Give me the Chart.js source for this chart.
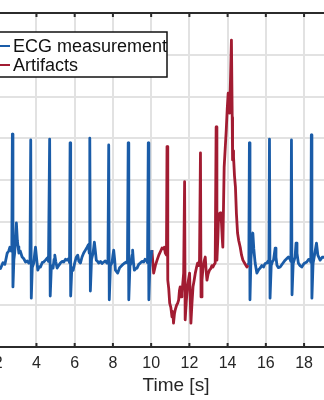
<!DOCTYPE html>
<html>
<head>
<meta charset="utf-8">
<script src="https://cdn.jsdelivr.net/npm/chart.js@4"></script>
<style>
  html, body { margin: 0; padding: 0; background: #fff; overflow: hidden; }
  #wrap { position: relative; width: 324px; height: 400px; overflow: hidden; }
  #ecgChart { position: absolute; left: -60px; top: 0; }
</style>
</head>
<body>
<div id="wrap"><canvas id="ecgChart" width="472" height="400"></canvas></div>
<script>
// data (time in s, signal in arbitrary units)
const legendLabels = ['ECG measurement', 'Artifacts'];

const ecgTimeA = [1.90, 2.00, 2.12, 2.25, 2.35, 2.47, 2.55, 2.61, 2.68, 2.71, 2.74, 2.77, 2.82, 2.86, 2.91, 2.95, 3.00, 3.04, 3.08, 3.15,
  3.25, 3.33, 3.43, 3.52, 3.60, 3.66, 3.70, 3.73, 3.78, 3.86, 3.91, 3.95, 3.99, 4.07, 4.14, 4.21, 4.30, 4.38, 4.47, 4.56,
  4.63, 4.69, 4.72, 4.78, 4.87, 4.92, 4.96, 5.01, 5.08, 5.16, 5.25, 5.34, 5.43, 5.52, 5.60, 5.69, 5.73, 5.76, 5.79, 5.85,
  5.92, 6.00, 6.08, 6.16, 6.22, 6.30, 6.38, 6.47, 6.56, 6.65, 6.72, 6.76, 6.79, 6.82, 6.88, 6.96, 7.03, 7.08, 7.13, 7.20,
  7.26, 7.35, 7.43, 7.52, 7.60, 7.69, 7.74, 7.78, 7.81, 7.87, 7.95, 8.00, 8.04, 8.09, 8.13, 8.20, 8.25, 8.35, 8.48, 8.58,
  8.70, 8.76, 8.80, 8.83, 8.89, 8.95, 9.00, 9.03, 9.08, 9.12, 9.20, 9.26, 9.35, 9.43, 9.52, 9.61, 9.68, 9.75, 9.81, 9.85,
  9.88, 9.93, 9.96, 10.04];
const ecgValA = [-0.05, -0.10, -0.12, 0.02, -0.02, 0.25, 0.30, 0.39, 0.30, 0.35, 3.10, -0.56, 0.10, 0.25, 0.60, 0.97, 0.55, 0.40, 0.25, 0.30,
  0.155, 0.12, 0.035, 0.06, 0.01, 0.04, 2.96, -0.83, -0.10, 0.01, 0.25, 0.39, 0.20, -0.16, -0.08, -0.085, 0.02, 0.035, 0.08, 0.13,
  0.05, 2.98, -0.78, -0.05, -0.11, 0.10, 0.20, 0.05, -0.11, -0.05, 0.01, 0.05, 0.035, 0.10, 0.08, 0.12, 0.02, 2.89, -0.78, -0.10,
  -0.16, 0.01, 0.15, 0.20, 0.05, 0.01, 0.15, 0.25, 0.32, 0.39, 0.45, 0.25, 3.00, -0.66, 0.10, 0.25, 0.51, 0.30, 0.08, 0.05,
  0.01, 0.05, 0.00, 0.035, 0.06, 0.01, 0.05, 2.84, -0.87, -0.05, 0.01, 0.20, 0.32, 0.10, -0.16, -0.20, -0.23, -0.10, -0.04, 0.00,
  0.035, 0.01, 2.89, -0.87, -0.05, 0.01, 0.20, 0.32, 0.00, -0.16, -0.12, -0.11, -0.02, 0.01, 0.05, 0.035, 0.10, 0.08, 0.02, 2.89,
  -0.87, -0.10, 0.035, 0.32];

const artTime = [10.04, 10.13, 10.22, 10.31, 10.40, 10.50, 10.57, 10.65, 10.69, 10.74, 10.80, 10.83, 10.87, 10.92, 10.97, 11.03, 11.09, 11.13, 11.17, 11.22,
  11.26, 11.33, 11.39, 11.44, 11.48, 11.52, 11.57, 11.61, 11.66, 11.70, 11.75, 11.78, 11.84, 11.90, 11.95, 12.01, 12.05, 12.08, 12.13, 12.19,
  12.25, 12.31, 12.37, 12.43, 12.48, 12.53, 12.58, 12.61, 12.66, 12.71, 12.77, 12.83, 12.88, 12.92, 12.98, 13.05, 13.12, 13.18, 13.23, 13.30,
  13.35, 13.40, 13.44, 13.49, 13.52, 13.58, 13.61, 13.65, 13.68, 13.72, 13.75, 13.79, 13.82, 13.88, 13.93, 13.98, 14.03, 14.07, 14.10, 14.15,
  14.20, 14.24, 14.26, 14.29, 14.31, 14.36, 14.41, 14.46, 14.52, 14.58, 14.66, 14.73, 14.80, 14.90, 15.01, 15.06];
const artVal = [0.32, -0.23, -0.05, 0.08, 0.20, 0.30, 0.37, 0.35, 0.39, 0.25, 0.20, 2.80, -0.40, -0.60, -0.95, -1.05, -1.28, -1.15, -1.43, -1.20,
  -1.11, -1.00, -0.95, -0.87, -0.65, -0.56, -0.80, -0.71, -0.45, -0.23, 1.96, -1.35, -0.90, -0.56, -0.40, -0.23, -0.90, -1.43, -1.00, -0.56,
  -0.40, -0.23, -0.10, 0.01, -0.05, 0.08, 2.65, -0.80, -0.40, -0.11, 0.05, 0.155, -0.20, -0.40, -0.25, -0.16, -0.12, -0.05, -0.085, -0.02,
  0.01, 3.27, 0.08, 0.60, 1.04, 1.20, 1.21, 1.10, 0.97, 0.60, 0.39, 1.50, 2.31, 2.80, 3.20, 3.70, 4.08, 3.80, 3.60, 4.40,
  5.35, 3.50, 2.48, 2.70, 2.55, 2.10, 1.83, 1.20, 0.73, 0.55, 0.39, 0.20, 0.08, 0.00, -0.085, -0.04];

const ecgTimeB = [15.06, 15.11, 15.14, 15.17, 15.22, 15.27, 15.32, 15.37, 15.44, 15.53, 15.62, 15.70, 15.79, 15.88, 15.96, 16.05, 16.12, 16.16, 16.19, 16.22,
  16.28, 16.35, 16.40, 16.49, 16.53, 16.58, 16.66, 16.75, 16.88, 17.01, 17.10, 17.18, 17.27, 17.31, 17.34, 17.37, 17.43, 17.53, 17.58, 17.63,
  17.70, 17.79, 17.88, 18.00, 18.14, 18.24, 18.32, 18.35, 18.38, 18.41, 18.47, 18.53, 18.65, 18.72, 18.84, 18.95, 19.05, 19.20, 19.35];
const ecgValB = [-0.04, 0.01, 2.89, -0.87, 0.10, 0.45, 0.73, 0.35, 0.01, -0.23, -0.15, -0.11, -0.05, -0.085, 0.00, 0.01, 0.06, 0.02, 2.98, -0.83,
  -0.05, 0.05, 0.08, 0.37, 0.15, -0.04, -0.10, -0.085, 0.00, 0.08, 0.12, 0.155, 0.10, 0.05, 2.96, -0.75, 0.00, 0.155, 0.49, 0.25,
  0.01, -0.05, -0.085, 0.00, 0.035, 0.10, 0.08, 0.03, 3.08, -0.83, 0.00, 0.155, 0.49, 0.20, 0.08, 0.15, 0.155, 0.10, 0.12];

const xTicks = [0, 2, 4, 6, 8, 10, 12, 14, 16, 18, 20, 22];

const BLUE = '#1a5ca8';
const RED = '#a21c32';
const AXIS = '#2b2b2b';
const FONT = "'Liberation Sans', Arial, Helvetica, sans-serif";

function toPoints(ts, vs) {
    return ts.map((t, i) => ({ x: t, y: vs[i] }));
}

// frame line on top, inward tick marks, and the legend box inside the axes
const frameAndLegend = {
    id: 'frameAndLegend',
    afterDatasetsDraw(chart) {
        const { ctx, chartArea: a, scales: { x } } = chart;
        ctx.save();
        ctx.strokeStyle = AXIS;
        ctx.lineWidth = 2;
        ctx.beginPath();
        ctx.moveTo(a.left, a.top);
        ctx.lineTo(a.right, a.top);
        x.ticks.forEach(t => {
            const px = x.getPixelForValue(t.value);
            ctx.moveTo(px, a.top);
            ctx.lineTo(px, a.top + 4);
            ctx.moveTo(px, a.bottom);
            ctx.lineTo(px, a.bottom - 4);
        });
        ctx.stroke();

        // legend
        const bx = a.left + 30, by = a.top + 19, bw = a.left + 207 - bx, bh = 45;
        ctx.fillStyle = '#fff';
        ctx.fillRect(bx, by, bw, bh);
        ctx.lineWidth = 1.5;
        ctx.strokeStyle = '#111';
        ctx.strokeRect(bx, by, bw, bh);
        const colors = [BLUE, RED];
        ctx.font = '18px ' + FONT;
        ctx.textBaseline = 'middle';
        legendLabels.forEach((label, i) => {
            const ly = a.top + 33 + i * 19;
            ctx.strokeStyle = colors[i];
            ctx.lineWidth = 2;
            ctx.beginPath();
            ctx.moveTo(a.left + 20, ly);
            ctx.lineTo(a.left + 50, ly);
            ctx.stroke();
            ctx.fillStyle = '#111';
            ctx.fillText(label, a.left + 53, ly + 1);
        });
        ctx.restore();
    }
};

const lineStyle = {
    borderWidth: 2.8,
    pointRadius: 0,
    tension: 0,
    borderJoinStyle: 'round',
    fill: false
};

new Chart(document.getElementById('ecgChart'), {
    type: 'line',
    data: {
        datasets: [
            { label: legendLabels[0], data: toPoints(ecgTimeA, ecgValA), borderColor: BLUE, ...lineStyle },
            { label: legendLabels[1], data: toPoints(artTime, artVal), borderColor: RED, ...lineStyle },
            { label: legendLabels[0], data: toPoints(ecgTimeB, ecgValB), borderColor: BLUE, ...lineStyle }
        ]
    },
    options: {
        responsive: false,
        animation: false,
        events: [],
        layout: { padding: { left: 20, right: 20, top: 13, bottom: 0 } },
        plugins: { legend: { display: false }, tooltip: { enabled: false } },
        scales: {
            x: {
                type: 'linear',
                min: 0,
                max: 22.6,
                afterBuildTicks: (scale) => { scale.ticks = xTicks.map(v => ({ value: v })); },
                afterFit: (scale) => { scale.height = 53; },
                grid: { color: '#e2e2e2', lineWidth: 2, drawTicks: false },
                border: { color: AXIS, width: 2 },
                ticks: { color: '#262626', font: { family: FONT, size: 16 }, padding: 7, maxRotation: 0 },
                title: {
                    display: true,
                    text: 'Time [s]',
                    color: '#262626',
                    font: { family: FONT, size: 19 },
                    padding: { top: 1, bottom: 3 }
                }
            },
            y: {
                min: -2,
                max: 6,
                ticks: { display: false, stepSize: 1 },
                grid: { color: '#e2e2e2', lineWidth: 2, drawTicks: false },
                border: { display: false }
            }
        }
    },
    plugins: [frameAndLegend]
});
</script>
</body>
</html>
